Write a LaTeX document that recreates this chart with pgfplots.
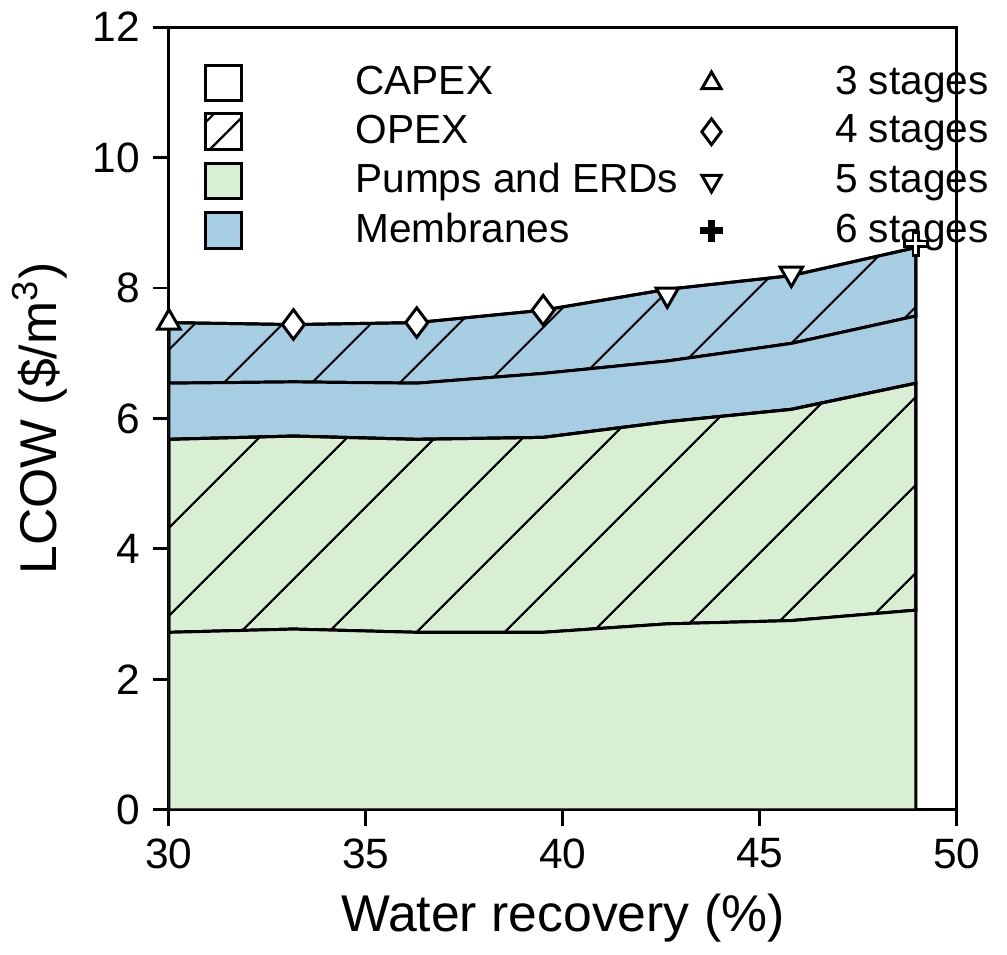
\documentclass[border=0pt]{standalone}
\usepackage{fontspec}
\setmainfont{Liberation Sans}
\usepackage{pgfplots}
\pgfplotsset{compat=1.18}
\usetikzlibrary{patterns.meta}
\definecolor{cgreen}{HTML}{D9EFD3}
\definecolor{cblue}{HTML}{A6CDE2}
\pgfplotsset{sq/.style={legend image code/.code={\draw[#1,line width=0.8pt] (0cm,-0.17cm) rectangle (0.34cm,0.17cm);}}}
\begin{document}
\begin{tikzpicture}
\begin{axis}[
  width=7.5cm, height=7.45cm, scale only axis,
  xmin=30, xmax=50, ymin=0, ymax=12,
  xtick={30,35,...,50}, ytick={0,2,...,12},
  tick align=outside, tick style={black, line width=0.8pt}, tick pos=left,
  axis line style={line width=0.8pt},
  /pgf/number format/assume math mode=true,
  ticklabel style={font=\fontsize{11.5}{13}\selectfont},
  label style={font=\fontsize{14}{17}\selectfont},
  xlabel={Water recovery (\%)},
  ylabel={LCOW (\$/m\textsuperscript{3})},
  stack plots=y,
  legend columns=2,
  legend style={draw=none, fill=none, at={(0.03,0.97)}, anchor=north west,
    font=\fontsize{11}{13}\selectfont, row sep=0pt, column sep=4pt,
    /tikz/every odd column/.append style={column sep=1.0cm}},
  legend cell align=left,
]
\addlegendimage{sq, draw=black, fill=white}
\addlegendentry{CAPEX}
\addlegendimage{only marks, mark=triangle*, mark options={fill=white, draw=black, thick}, mark size=3pt}
\addlegendentry{3 stages}
\addlegendimage{sq, draw=black, fill=white, postaction={pattern={Lines[angle=45,distance=6pt,line width=0.6pt]}}}
\addlegendentry{OPEX}
\addlegendimage{only marks, mark=diamond*, mark options={fill=white, draw=black, thick}, mark size=3.5pt}
\addlegendentry{4 stages}
\addlegendimage{sq, draw=black, fill=cgreen}
\addlegendentry{Pumps and ERDs}
\addlegendimage{only marks, mark=triangle*, mark options={fill=white, draw=black, thick, rotate=180}, mark size=3pt}
\addlegendentry{5 stages}
\addlegendimage{sq, draw=black, fill=cblue}
\addlegendentry{Membranes}
\addlegendimage{only marks, mark=+, mark options={draw=black, line width=1.8pt}, mark size=3pt}
\addlegendentry{6 stages}

\addplot[forget plot, draw=black, line width=0.8pt, fill=cgreen] coordinates {(30,2.72)(33.16,2.77)(36.29,2.72)(39.5,2.72)(42.65,2.85)(45.8,2.9)(48.96,3.06)} \closedcycle;
\addplot[forget plot, draw=black, line width=0.8pt, fill=cgreen, postaction={pattern={Lines[angle=45,distance=17pt,line width=0.6pt]}}] coordinates {(30,2.96)(33.16,2.96)(36.29,2.96)(39.5,2.99)(42.65,3.10)(45.8,3.24)(48.96,3.48)} \closedcycle;
\addplot[forget plot, draw=black, line width=0.8pt, fill=cblue] coordinates {(30,0.86)(33.16,0.83)(36.29,0.86)(39.5,0.98)(42.65,0.93)(45.8,1.01)(48.96,1.03)} \closedcycle;
\addplot[forget plot, draw=black, line width=0.8pt, fill=cblue, postaction={pattern={Lines[angle=45,distance=17pt,line width=0.6pt]}}] coordinates {(30,0.93)(33.16,0.88)(36.29,0.93)(39.5,0.97)(42.65,1.10)(45.8,1.04)(48.96,1.05)} \closedcycle;
\end{axis}
\begin{axis}[
  width=7.5cm, height=7.45cm, scale only axis,
  xmin=30, xmax=50, ymin=0, ymax=12, axis lines=none, clip=false]
\addplot[only marks, mark=triangle*, mark options={fill=white, draw=black, thick}, mark size=3.5pt] coordinates {(30,7.47)};
\addplot[only marks, mark=diamond*, mark options={fill=white, draw=black, thick}, mark size=4pt] coordinates {(33.16,7.44)(36.29,7.47)(39.5,7.66)};
\addplot[only marks, mark=triangle*, mark options={fill=white, draw=black, thick, rotate=180}, mark size=3.5pt] coordinates {(42.65,7.9)(45.8,8.22)};
\addplot[only marks, mark=+, mark options={draw=black, line width=2.2pt}, mark size=3.5pt] coordinates {(48.96,8.68)};
\addplot[only marks, mark=+, mark options={draw=white, line width=0.8pt}, mark size=2.7pt] coordinates {(48.96,8.68)};
\end{axis}
\end{tikzpicture}
\end{document}
